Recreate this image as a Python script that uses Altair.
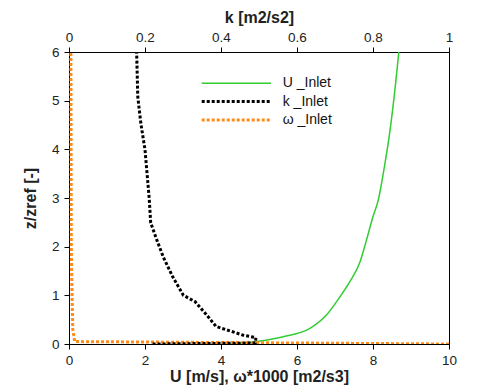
import altair as alt
import pandas as pd

# ---- data ----
z_U = [0.0, 0.05, 0.15, 0.32, 0.60, 0.97, 1.28, 1.69, 2.14, 2.62, 2.96, 3.64, 4.40, 5.39, 6.0]
U_vals = [4.2, 4.94, 5.64, 6.34, 6.78, 7.13, 7.39, 7.66, 7.83, 8.0, 8.14, 8.3, 8.45, 8.6, 8.68]

z_k = [0.0, 0.02, 0.13, 0.18, 0.36, 0.6, 0.87, 1.0, 1.38, 1.79, 2.14, 2.49, 3.0, 3.99, 4.54, 5.08, 6.0]
k_vals = [0.22, 0.49, 0.492, 0.459, 0.387, 0.362, 0.332, 0.301, 0.273, 0.248, 0.231, 0.215, 0.211, 0.2, 0.189, 0.181, 0.178]

z_w = [0.0, 0.05, 0.3, 1.0, 2.0, 6.0]
w_vals = [10.0, 0.15, 0.1, 0.08, 0.06, 0.05]

legend_labels = ["U _Inlet", "k _Inlet", "ω _Inlet"]
line_colors = ["#33cc33", "#000000", "#ff8c1a"]

x_ticks = [0, 2, 4, 6, 8, 10]
k_ticks = [0, 0.2, 0.4, 0.6, 0.8, 1]
y_ticks = [0, 1, 2, 3, 4, 5, 6]

dfU = pd.DataFrame({"z": z_U, "v": U_vals, "i": list(range(len(z_U)))})
dfK = pd.DataFrame({"z": z_k, "v": k_vals, "i": list(range(len(z_k)))})
dfW = pd.DataFrame({"z": z_w, "v": w_vals, "i": list(range(len(z_w)))})
dfL = pd.DataFrame({"label": legend_labels, "row": [0, 1, 2]})

FONT = "Liberation Sans"

x_scale = alt.Scale(domain=[0, 10], nice=False, zero=False)
y_enc = alt.Y("z:Q", scale=alt.Scale(domain=[0, 6], nice=False),
              axis=alt.Axis(values=y_ticks, title="z/zref [-]", labelPadding=5, titlePadding=13))

u_line = alt.Chart(dfU).mark_line(color=line_colors[0], strokeWidth=1.5, clip=True,
                                  interpolate="monotone").encode(
    x=alt.X("v:Q", scale=x_scale,
            axis=alt.Axis(orient="bottom", values=x_ticks, title="U [m/s], ω*1000 [m2/s3]",
                          labelPadding=4, titlePadding=2)),
    y=y_enc, order="i:Q")

w_line = alt.Chart(dfW).mark_line(color=line_colors[2], strokeWidth=3, strokeDash=[3, 2], clip=True).encode(
    x=alt.X("v:Q", scale=x_scale), y=y_enc, order="i:Q")

k_line = alt.Chart(dfK).mark_line(color=line_colors[1], strokeWidth=3, strokeDash=[3, 2], clip=True).encode(
    x=alt.X("v:Q", scale=alt.Scale(domain=[0, 1], nice=False),
            axis=alt.Axis(orient="top", values=k_ticks, format="~g", title="k [m2/s2]",
                          labelPadding=3, titlePadding=5)),
    y=y_enc, order="i:Q")

dashes = [None, [3, 2], [3, 2]]
widths = [1.5, 3, 3]
legend_layers = []
for r in range(3):
    yy = 31.3 + 18.3 * r
    kw = dict(color=line_colors[r], strokeWidth=widths[r])
    if dashes[r] is not None:
        kw["strokeDash"] = dashes[r]
    legend_layers.append(
        alt.Chart(dfL).transform_filter(f"datum.row == {r}").mark_rule(**kw).encode(
            x=alt.value(132.7), x2=alt.value(202), y=alt.value(yy)))
    legend_layers.append(
        alt.Chart(dfL).transform_filter(f"datum.row == {r}").mark_text(
            align="left", baseline="middle", font=FONT, fontSize=14, color="#111").encode(
            text="label:N", x=alt.value(213.7), y=alt.value(yy)))

bottom = alt.layer(u_line, w_line, *legend_layers)
chart = alt.layer(bottom, k_line).resolve_scale(x="independent").properties(
    width=380, height=292,
    autosize=alt.AutoSizeParams(type="none"),
    padding={"left": 61, "top": 44, "right": 20, "bottom": 41},
).configure_axis(
    labelFont=FONT, labelFontSize=13.5, labelColor="#222",
    titleFont=FONT, titleFontSize=16, titleFontWeight="bold", titleColor="#222",
    domainColor="black", tickColor="black", tickSize=5, grid=False,
    labelFlush=False, labelOverlap=False,
).configure_view(stroke="black", strokeWidth=1)

chart.save("out.html", embed_options={"renderer": "svg", "actions": False})
